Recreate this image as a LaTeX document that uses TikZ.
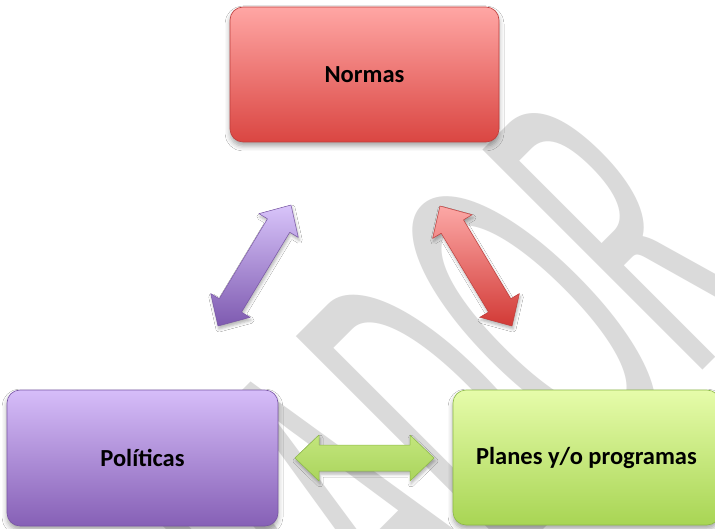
\documentclass[tikz,border=0pt]{standalone}
\usepackage{fontspec}
\setmainfont{Carlito}
\usetikzlibrary{calc,shadows.blur}
\definecolor{wm}{RGB}{218,218,218}
\definecolor{nTop}{RGB}{255,166,164}
\definecolor{nBot}{RGB}{218,70,66}
\definecolor{nLine}{RGB}{190,60,58}
\definecolor{pTop}{RGB}{214,189,249}
\definecolor{pBot}{RGB}{134,96,182}
\definecolor{pLine}{RGB}{120,85,165}
\definecolor{gTop}{RGB}{230,252,170}
\definecolor{gBot}{RGB}{168,213,84}
\definecolor{gLine}{RGB}{140,185,70}
\definecolor{paTop}{RGB}{216,196,250}
\definecolor{paBot}{RGB}{126,90,176}
\definecolor{raTop}{RGB}{252,168,166}
\definecolor{raBot}{RGB}{210,58,54}
\definecolor{gaTop}{RGB}{195,230,125}
\definecolor{gaMid}{RGB}{228,248,158}
\definecolor{gaBot}{RGB}{170,212,92}
\newcommand{\dblarr}[3]{%
  \path[#1] (#2)
    -- ($(#2)!24pt!(#3)!23pt!90:(#3)$)
    -- ($(#2)!24pt!(#3)!13pt!90:(#3)$)
    -- ($(#3)!24pt!(#2)!13pt!-90:(#2)$)
    -- ($(#3)!24pt!(#2)!23pt!-90:(#2)$)
    -- (#3)
    -- ($(#3)!24pt!(#2)!23pt!90:(#2)$)
    -- ($(#3)!24pt!(#2)!13pt!90:(#2)$)
    -- ($(#2)!24pt!(#3)!13pt!-90:(#3)$)
    -- ($(#2)!24pt!(#3)!23pt!-90:(#3)$)
    -- cycle;}
\tikzset{
  box/.style={rounded corners=13pt, minimum width=269pt, minimum height=135pt,
    inner sep=0pt, line width=0.6pt, text=black,
    font=\fontsize{24.5}{28}\selectfont\bfseries,
    blur shadow={shadow xshift=0pt, shadow yshift=-4pt, shadow blur radius=5pt, shadow opacity=35}},
  arrowshape/.style={line width=0.5pt, line join=round,
    blur shadow={shadow xshift=1pt, shadow yshift=-3pt, shadow blur radius=3pt, shadow opacity=30}},
}
\begin{document}
\begin{tikzpicture}[x=1pt,y=-1pt]
\useasboundingbox (0,0) rectangle (715,529);
\fill[white] (0,0) rectangle (715,529);
\begin{scope}
\clip (0,0) rectangle (715,529);
% watermark
\begin{scope}[shift={(771,302)}, rotate=45, xscale=2.05, yscale=4.85]
  \node[transform shape, anchor=base east, inner sep=0pt, text=wm,
        font=\fontsize{100}{100}\selectfont] (wmark) at (0,0) {BORRADOR};
\end{scope}
% boxes
\node[box, top color=nTop, bottom color=nBot, draw=nLine] (normas) at (364.5,74.5) {Normas};
\node[box, minimum width=271pt, minimum height=136pt, top color=pTop, bottom color=pBot, draw=pLine] (politicas) at (142.5,458) {Políticas};
\node[box, minimum width=267pt, top color=gTop, bottom color=gBot, draw=gLine] (planes) at (586.5,457.5) {Planes y/o programas};
% arrow end points
\coordinate (pa) at (218,326);
\coordinate (pb) at (291,205);
\coordinate (ra) at (440,206);
\coordinate (rb) at (512,326);
\coordinate (ga) at (295,458);
\coordinate (gb) at (434,458);
\dblarr{arrowshape, top color=paTop, bottom color=paBot, draw=pLine}{pa}{pb}
\dblarr{arrowshape, top color=raTop, bottom color=raBot, draw=nLine}{ra}{rb}
\dblarr{arrowshape, top color=gaTop, middle color=gaMid, bottom color=gaBot, draw=gLine}{ga}{gb}
\end{scope}
\end{tikzpicture}
\end{document}
